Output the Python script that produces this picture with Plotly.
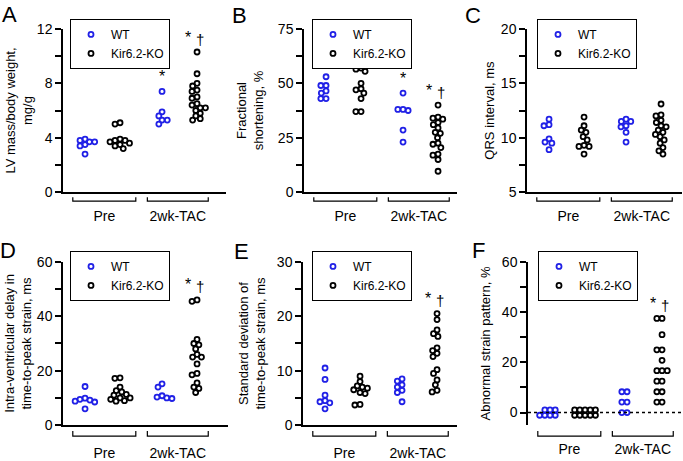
import plotly.graph_objects as go

W, H = 683, 461
FONT = "Liberation Sans, Arial, Helvetica, sans-serif"
WT_COLOR = "#2020e6"
KO_COLOR = "#000000"

series_names = ["WT", "Kir6.2-KO"]
group_labels = ["Pre", "2wk-TAC"]

# ---- Panel A: LV mass / body weight (mg/g)
lvm_wt_pre = [3.9, 3.8, 3.7, 3.7, 3.5, 3.4, 2.8]
lvm_ko_pre = [5.1, 5.0, 3.9, 3.8, 3.8, 3.7, 3.6, 3.5, 3.4, 3.2]
lvm_wt_tac = [7.4, 5.9, 5.6, 5.3, 5.3, 5.0]
lvm_ko_tac = [10.3, 8.7, 8.0, 7.8, 7.5, 7.4, 7.0, 6.9, 6.5, 6.4, 6.2, 6.2, 6.0, 5.8, 5.6, 5.4, 5.3]

# ---- Panel B: Fractional shortening (%)
fs_wt_pre = [53, 49, 49, 46.5, 45.5, 43, 43]
fs_ko_pre = [57, 56.5, 55.5, 50, 47.5, 47, 45.5, 43, 37, 37]
fs_wt_tac = [45.5, 38, 38, 37.5, 28.5, 23]
fs_ko_tac = [40, 34.5, 34, 33.5, 32, 31, 29.5, 27.5, 27, 25, 22.5, 22, 20.5, 17.5, 17, 15, 9.6]

# ---- Panel C: QRS interval (ms)
qrs_wt_pre = [11.7, 11.2, 11.1, 9.9, 9.6, 9.5, 8.9]
qrs_ko_pre = [11.9, 11.1, 10.7, 10.5, 10.1, 9.8, 9.3, 9.2, 9.2, 8.5]
qrs_wt_tac = [11.7, 11.5, 11.5, 11.1, 11.0, 10.5, 9.6]
qrs_ko_tac = [13.1, 12.1, 12.0, 11.6, 11.4, 11.1, 11.0, 10.7, 10.5, 10.3, 10.1, 9.8, 9.5, 9.1, 8.8, 8.5]

# ---- Panel D: Intra-ventricular delay in time-to-peak strain (ms)
ivd_wt_pre = [14.2, 9.9, 9.5, 9.2, 8.8, 8.5, 6.0]
ivd_ko_pre = [17.4, 17.2, 14.0, 12.7, 12.2, 11.3, 11.0, 10.0, 10.0, 9.5, 9.0, 8.8]
ivd_wt_tac = [15.2, 14.0, 10.8, 10.3, 10.0, 9.8]
ivd_ko_tac = [46, 45.5, 31.5, 30, 29.5, 28, 26, 25, 25, 22.5, 19, 18.5, 15.5, 14, 13.5, 12]

# ---- Panel E: SD of time-to-peak strain (ms)
sd_wt_pre = [10.5, 8.4, 5.5, 4.5, 4.3, 4.1, 3.0]
sd_ko_pre = [9.0, 8.0, 7.2, 7.0, 6.8, 6.5, 6.0, 5.8, 3.8, 3.7]
sd_wt_tac = [8.5, 8.1, 7.4, 7.0, 6.4, 6.0, 4.3]
sd_ko_tac = [20.5, 19.4, 17.5, 16.8, 16.3, 14.2, 13.7, 13.2, 12.6, 10.2, 9.5, 8.3, 7.4, 6.4, 6.1]

# ---- Panel F: Abnormal strain pattern (%)
asp_wt_pre = [1.05, 1.05, 1.05, -1.05, -1.05, -1.05, -1.05]
asp_ko_pre = [1.05, 1.05, 1.05, 1.05, 1.05, -1.05, -1.05, -1.05, -1.05, -1.05]
asp_wt_tac = [8.3, 8.3, 4.2, 4.2, 0, 0]
asp_ko_tac = [37.5, 37.5, 31, 25, 25, 20.8, 16.7, 16.7, 16.7, 12.5, 12.5, 8.3, 8.3, 4.2, 4.2]

panels = [
    dict(letter="A", title="LV mass/body weight,<br>mg/g",
         data=[lvm_wt_pre, lvm_ko_pre, lvm_wt_tac, lvm_ko_tac],
         yrange=[0, 12], major=[0, 4, 8, 12], minor=[2, 6, 10],
         star=[2, 3], dagger=[3]),
    dict(letter="B", title="Fractional<br>shortening, %",
         data=[fs_wt_pre, fs_ko_pre, fs_wt_tac, fs_ko_tac],
         yrange=[0, 75], major=[0, 25, 50, 75], minor=[12.5, 37.5, 62.5],
         star=[2, 3], dagger=[3]),
    dict(letter="C", title="QRS interval, ms",
         data=[qrs_wt_pre, qrs_ko_pre, qrs_wt_tac, qrs_ko_tac],
         yrange=[5, 20], major=[5, 10, 15, 20], minor=[7.5, 12.5, 17.5],
         star=[], dagger=[]),
    dict(letter="D", title="Intra-ventricular delay in<br>time-to-peak strain, ms",
         data=[ivd_wt_pre, ivd_ko_pre, ivd_wt_tac, ivd_ko_tac],
         yrange=[0, 60], major=[0, 20, 40, 60], minor=[10, 30, 50],
         star=[3], dagger=[3]),
    dict(letter="E", title="Standard deviation of<br>time-to-peak strain, ms",
         data=[sd_wt_pre, sd_ko_pre, sd_wt_tac, sd_ko_tac],
         yrange=[0, 30], major=[0, 10, 20, 30], minor=[5, 15, 25],
         star=[3], dagger=[3]),
    dict(letter="F", title="Abnormal strain pattern, %",
         data=[asp_wt_pre, asp_ko_pre, asp_wt_tac, asp_ko_tac],
         yrange=[-5, 60], major=[0, 20, 40, 60], minor=[10, 30, 50],
         star=[3], dagger=[3], zero_dotted=True),
]

# ---- layout geometry (pixels)
cols_px = [(63, 226), (304, 457), (527, 682), (63, 228), (303, 457), (528, 682)]
rows_px = [(29, 193)] * 3 + [(263, 427)] * 3
letter_px = [(9.5, 14.5), (239, 15.5), (472.5, 15.5), (8, 251.5), (241, 253), (478, 251.5)]
legend_px = [(70, 19), (312, 19), (537, 19), (70, 252), (312, 252), (538, 252)]
title_standoff = [1, 11, 3, 2, 8, 8]
GROUP_X = [1.0, 2.0, 3.2, 4.2]
PX_PER_X = 35.0
X0 = 0.37
BRACKETS = [(0.65, 2.45), (2.78, 4.52)]
MARKER_D = 5.2


def swarm_offsets(values, px_per_unit):
    n = len(values)
    order = sorted(range(n), key=lambda i: -values[i])
    placed = []
    offs = [0.0] * n
    d = MARKER_D
    for i in order:
        y = values[i] * px_per_unit
        cands = [0.0]
        for (px, py) in placed:
            dy = y - py
            if abs(dy) < d:
                dx = (d * d - dy * dy) ** 0.5
                cands += [px + dx, px - dx]
        cands.sort(key=lambda c: (abs(c), c))
        best = 0.0
        for c in cands:
            if all((c - px) ** 2 + (y - py) ** 2 >= d * d - 1e-6 for px, py in placed):
                best = c
                break
        placed.append((best, y))
        offs[i] = best / PX_PER_X
    return offs


fig = go.Figure()
layout = dict(
    width=W, height=H, margin=dict(l=0, r=0, t=0, b=0),
    paper_bgcolor="white", plot_bgcolor="white",
    font=dict(family=FONT, size=14, color="black"),
    annotations=[], shapes=[],
)

for k, p in enumerate(panels):
    idx = k + 1
    xa = "x" if idx == 1 else f"x{idx}"
    ya = "y" if idx == 1 else f"y{idx}"
    lg = "legend" if idx == 1 else f"legend{idx}"
    (cx0, cx1) = cols_px[k]
    (ry0, ry1) = rows_px[k]
    hpx = ry1 - ry0
    px_per_unit = hpx / (p["yrange"][1] - p["yrange"][0])
    xend = X0 + (cx1 - cx0) / PX_PER_X

    for g, vals in enumerate(p["data"]):
        s = g % 2
        offs = swarm_offsets(vals, px_per_unit)
        fig.add_trace(go.Scatter(
            x=[GROUP_X[g] + o for o in offs], y=vals,
            mode="markers", name=series_names[s],
            marker=dict(symbol="circle-open", size=5.0,
                        color=WT_COLOR if s == 0 else KO_COLOR,
                        line=dict(width=1.8)),
            xaxis=xa, yaxis=ya, legend=lg, cliponaxis=False,
            showlegend=(g < 2), hoverinfo="x+y",
        ))

    both = set(p["star"]) & set(p["dagger"])
    for g in p["star"]:
        layout["annotations"].append(dict(
            x=GROUP_X[g], y=max(p["data"][g]), xref=xa, yref=ya,
            text="*", showarrow=False, yanchor="middle", yshift=15,
            xshift=-9 if g in both else 0,
            font=dict(size=16, family=FONT, color="black")))
    for g in p["dagger"]:
        layout["annotations"].append(dict(
            x=GROUP_X[g], y=max(p["data"][g]), xref=xa, yref=ya,
            text="†", showarrow=False, yanchor="middle", yshift=13,
            xshift=3,
            font=dict(size=15, family=FONT, color="black")))

    ax_suffix = "" if idx == 1 else str(idx)
    layout["xaxis" + ax_suffix] = dict(
        domain=[cx0 / W, cx1 / W], range=[X0, xend], anchor=ya,
        showline=not p.get("zero_dotted", False), linecolor="black", linewidth=1.5,
        ticks="", showgrid=False, zeroline=False,
        tickvals=[(a + b) / 2 for a, b in BRACKETS], ticktext=group_labels,
        tickfont=dict(size=14), ticklabelstandoff=10 if k < 3 else 14,
        fixedrange=True,
    )
    layout["yaxis" + ax_suffix] = dict(
        domain=[1 - ry1 / H, 1 - ry0 / H], range=p["yrange"], anchor=xa,
        showline=True, linecolor="black", linewidth=1.5,
        ticks="outside", ticklen=6, tickwidth=1.5, tickcolor="black",
        tickvals=p["major"], tickfont=dict(size=14),
        minor=dict(tickvals=p["minor"], ticks="outside", ticklen=6,
                   tickwidth=1.5, tickcolor="black"),
        showgrid=False, zeroline=False,
        title=dict(text=p["title"], font=dict(size=13), standoff=title_standoff[k]),
        automargin=False, fixedrange=True,
    )

    # category brackets under the axis
    top_off = (5 if k < 3 else 6) / hpx
    bot_off = (9 if k < 3 else 11) / hpx
    for (a, b) in BRACKETS:
        layout["shapes"].append(dict(
            type="path", xref=xa, yref=f"{ya} domain",
            path=f"M {a},{-top_off} L {a},{-bot_off} L {b},{-bot_off} L {b},{-top_off}",
            line=dict(color="black", width=1.2)))

    if p.get("zero_dotted"):
        layout["shapes"].append(dict(
            type="line", xref=f"{xa} domain", yref=ya, x0=0, x1=1, y0=0, y1=0,
            line=dict(color="black", width=1.5, dash="dot")))

    lx, ly = legend_px[k]
    layout[lg] = dict(
        x=lx / W, y=1 - ly / H, xanchor="left", yanchor="top",
        bordercolor="black", borderwidth=1, bgcolor="white",
        font=dict(size=12, family=FONT), itemwidth=30,
        tracegroupgap=0, traceorder="normal",
    )

    tx, ty = letter_px[k]
    layout["annotations"].append(dict(
        x=tx / W, y=1 - ty / H, xref="paper", yref="paper",
        xanchor="center", yanchor="middle", text=p["letter"], showarrow=False,
        font=dict(size=22, family=FONT)))

fig.update_layout(**layout)
fig.write_html("out.html", config={"displayModeBar": False},
               post_script="document.body.style.margin='0px';document.body.style.padding='0px';")
